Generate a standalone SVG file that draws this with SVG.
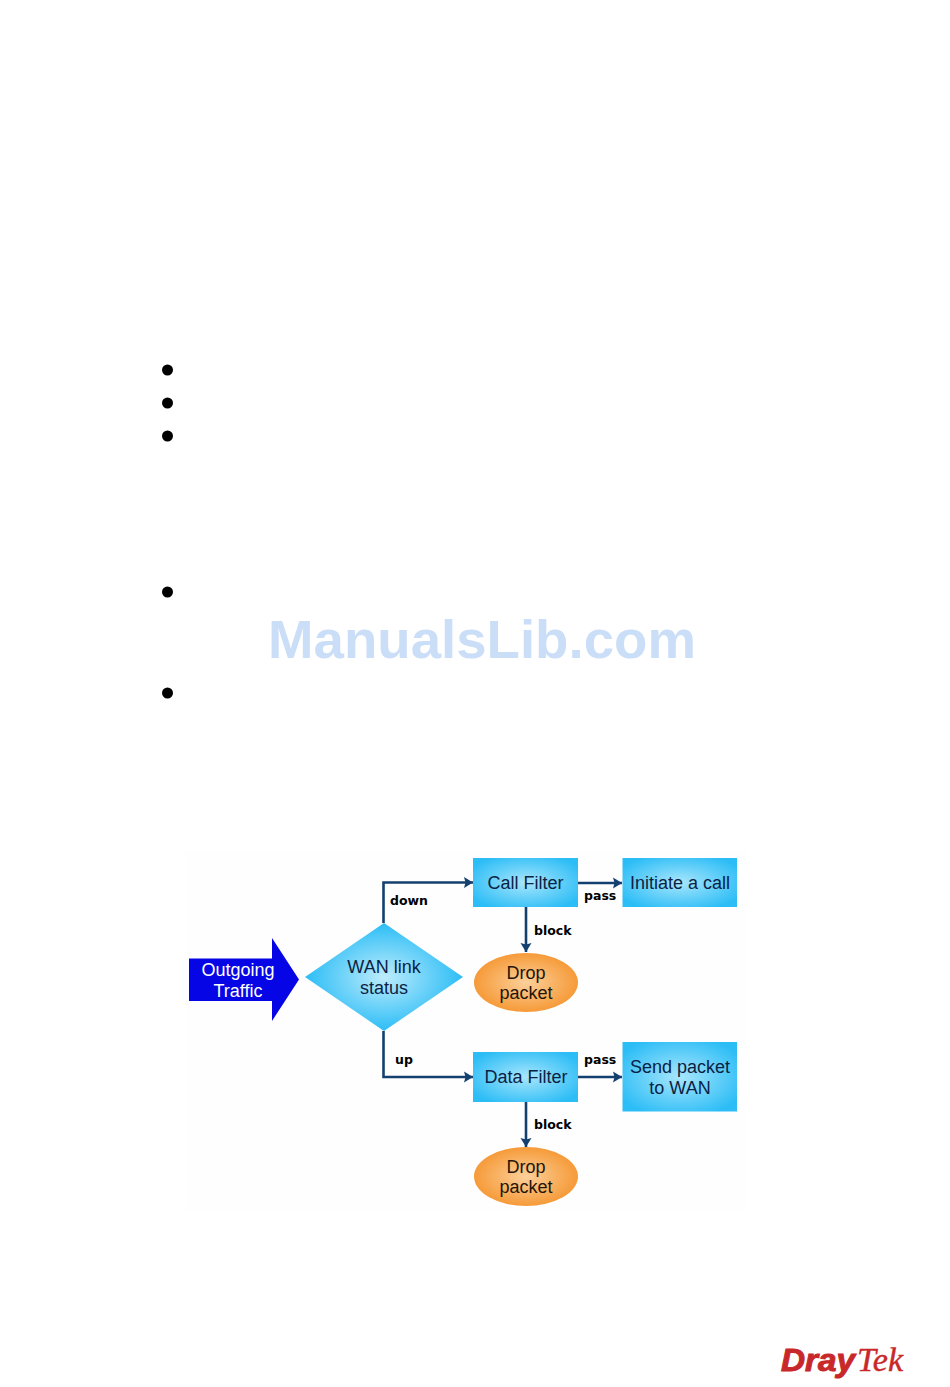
<svg xmlns="http://www.w3.org/2000/svg" width="950" height="1387" viewBox="0 0 950 1387">
<style>
.n{font:18px "Liberation Sans",Arial,sans-serif;fill:#0b2245;text-anchor:middle}
.w{fill:#fff}
.o{fill:#231508}
.l{font:bold 12.5px "DejaVu Sans",sans-serif;fill:#000;text-anchor:start}
.c{fill:none;stroke:#14406f;stroke-width:2.6}
.b{fill:#000}
</style>
<defs>
<radialGradient id="blue" cx="50%" cy="50%" r="60%"><stop offset="0" stop-color="#a8e6fc"/><stop offset="1" stop-color="#2cbdf6"/></radialGradient>
<radialGradient id="dia" cx="50%" cy="50%" r="50%"><stop offset="0" stop-color="#bdecfc"/><stop offset="1" stop-color="#2cbdf6"/></radialGradient>
<radialGradient id="org" cx="50%" cy="50%" r="55%"><stop offset="0" stop-color="#fcd09a"/><stop offset="1" stop-color="#f5952f"/></radialGradient>
<marker id="a" markerUnits="userSpaceOnUse" markerWidth="10" markerHeight="12" refX="9" refY="6" orient="auto"><path d="M0 0.500L9 6L0 11.500L1.500 6Z" fill="#14406f"/></marker>
</defs>
<rect width="950" height="1387" fill="#fff"/>
<rect x="185" y="850" width="562" height="360" fill="#fefefe"/>
<g id="bullets" class="b">
<circle cx="167.500" cy="370" r="5.500"/><circle cx="167.500" cy="403" r="5.500"/><circle cx="167.500" cy="436" r="5.500"/><circle cx="167.500" cy="592" r="5.500"/><circle cx="167.500" cy="693" r="5.500"/>
</g>
<text id="watermark" x="482" y="658" font-family="'Liberation Sans',Arial,sans-serif" font-weight="bold" font-size="53" fill="#cbdef8" text-anchor="middle" textLength="428" lengthAdjust="spacingAndGlyphs">ManualsLib.com</text>
<g id="connectors">
<path class="c" marker-end="url(#a)" d="M383.500 923V882.500H473"/>
<path class="c" marker-end="url(#a)" d="M383.500 1031V1077H473"/>
<path class="c" marker-end="url(#a)" d="M578 883H622"/>
<path class="c" marker-end="url(#a)" d="M578 1077H622"/>
<path class="c" marker-end="url(#a)" d="M526 907V952"/>
<path class="c" marker-end="url(#a)" d="M526 1102V1147"/>
<text class="l" x="390" y="904.500">down</text>
<text class="l" x="395" y="1064">up</text>
<text class="l" x="584" y="900">pass</text>
<text class="l" x="584" y="1064">pass</text>
<text class="l" x="534" y="934.500">block</text>
<text class="l" x="534" y="1129">block</text>
</g>
<g id="outgoing"><path d="M189 958.500H272V938L299 979.500L272 1021V1001H189Z" fill="#0505e6"/>
<text class="n w" x="238" y="975.500">Outgoing</text><text class="n w" x="238" y="996.500">Traffic</text></g>
<g id="wan"><path d="M384 923L463 977L384 1031L305 977Z" fill="url(#dia)"/>
<text class="n" x="384" y="972.500">WAN link</text><text class="n" x="384" y="993.500">status</text></g>
<g id="callfilter"><rect x="473" y="858" width="105" height="49" fill="url(#blue)"/><text class="n" x="525.500" y="889">Call Filter</text></g>
<g id="initiate"><rect x="622.500" y="858" width="114.500" height="49" fill="url(#blue)"/><text class="n" x="680" y="889">Initiate a call</text></g>
<g id="drop1"><ellipse cx="526" cy="982.500" rx="52" ry="29.500" fill="url(#org)"/><text class="n o" x="526" y="978.500">Drop</text><text class="n o" x="526" y="999">packet</text></g>
<g id="datafilter"><rect x="473" y="1052" width="105" height="50" fill="url(#blue)"/><text class="n" x="526" y="1083">Data Filter</text></g>
<g id="send"><rect x="622.500" y="1042" width="114.500" height="69.500" fill="url(#blue)"/><text class="n" x="680" y="1073">Send packet</text><text class="n" x="680" y="1094">to WAN</text></g>
<g id="drop2"><ellipse cx="526" cy="1176.500" rx="52" ry="29.500" fill="url(#org)"/><text class="n o" x="526" y="1172.500">Drop</text><text class="n o" x="526" y="1193">packet</text></g>
<g id="logo"><text x="781" y="1371" font-family="'Liberation Sans',sans-serif" font-weight="bold" font-style="italic" font-size="31" fill="#c8282a" stroke="#c8282a" stroke-width="1" textLength="74" lengthAdjust="spacingAndGlyphs">Dray</text>
<text x="857" y="1371" font-family="'Liberation Serif',serif" font-style="italic" font-size="33" fill="#c8282a" stroke="#c8282a" stroke-width="0.400" textLength="46" lengthAdjust="spacingAndGlyphs">Tek</text></g>
</svg>
